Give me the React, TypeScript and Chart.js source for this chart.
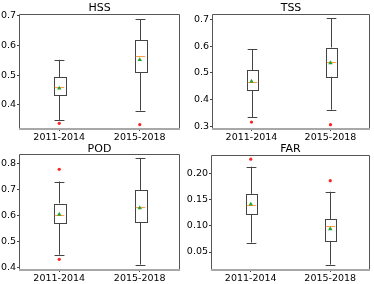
import React, { useEffect, useRef } from 'react';
import { Chart, registerables } from 'chart.js';
Chart.register(...registerables);

const categories = ['2011-2014', '2015-2018'];

const hssLow = [0.349, 0.381];
const hssQ1 = [0.432, 0.508];
const hssMedian = [0.459, 0.566];
const hssQ3 = [0.494, 0.617];
const hssHigh = [0.552, 0.688];
const hssMean = [0.456, 0.552];
const hssOutliers = [[0.338], [0.334]];

const tssLow = [0.334, 0.362];
const tssQ1 = [0.435, 0.486];
const tssMedian = [0.466, 0.539];
const tssQ3 = [0.509, 0.594];
const tssHigh = [0.588, 0.704];
const tssMean = [0.468, 0.537];
const tssOutliers = [[0.316], [0.306]];

const podLow = [0.45, 0.412];
const podQ1 = [0.572, 0.574];
const podMedian = [0.603, 0.632];
const podQ3 = [0.647, 0.698];
const podHigh = [0.732, 0.823];
const podMean = [0.605, 0.63];
const podOutliers = [[0.779, 0.432], []];

const farLow = [0.068, 0.026];
const farQ1 = [0.123, 0.0714];
const farMedian = [0.139, 0.0987];
const farQ3 = [0.1607, 0.113];
const farHigh = [0.2128, 0.165];
const farMean = [0.141, 0.094];
const farOutliers = [[0.227], [0.186]];

const hssTicks = [0.4, 0.5, 0.6, 0.7];
const tssTicks = [0.3, 0.4, 0.5, 0.6, 0.7];
const podTicks = [0.4, 0.5, 0.6, 0.7, 0.8];
const farTicks = [0.05, 0.1, 0.15, 0.2];

const W = 187;
const H = 142;
const FONT = '"DejaVu Sans", sans-serif';

type Panel = {
  title: string;
  low: number[]; q1: number[]; med: number[]; q3: number[]; high: number[]; mean: number[]; outliers: number[][];
  ticks: number[]; decimals: number; yMin: number; yMax: number;
  left: number; top: number; area: { l: number; r: number; t: number; b: number }; titleY: number;
};

const panels: Panel[] = [
  { title: 'HSS', low: hssLow, q1: hssQ1, med: hssMedian, q3: hssQ3, high: hssHigh, mean: hssMean, outliers: hssOutliers,
    ticks: hssTicks, decimals: 1, yMin: 0.319, yMax: 0.706, left: 0, top: 0, area: { l: 19, r: 180, t: 14, b: 129 }, titleY: 11 },
  { title: 'TSS', low: tssLow, q1: tssQ1, med: tssMedian, q3: tssQ3, high: tssHigh, mean: tssMean, outliers: tssOutliers,
    ticks: tssTicks, decimals: 1, yMin: 0.29, yMax: 0.72, left: 187, top: 0, area: { l: 25, r: 184, t: 14, b: 129 }, titleY: 11 },
  { title: 'POD', low: podLow, q1: podQ1, med: podMedian, q3: podQ3, high: podHigh, mean: podMean, outliers: podOutliers,
    ticks: podTicks, decimals: 1, yMin: 0.391, yMax: 0.838, left: 0, top: 142, area: { l: 19, r: 180, t: 12, b: 128 }, titleY: 9.5 },
  { title: 'FAR', low: farLow, q1: farQ1, med: farMedian, q3: farQ3, high: farHigh, mean: farMean, outliers: farOutliers,
    ticks: farTicks, decimals: 2, yMin: 0.0157, yMax: 0.235, left: 187, top: 142, area: { l: 24, r: 184, t: 13, b: 128 }, titleY: 10 },
];

function BoxChart({ p }: { p: Panel }) {
  const ref = useRef<HTMLCanvasElement>(null);
  useEffect(() => {
    const boxPlugin = {
      id: 'boxes',
      beforeDatasetsDraw(chart: any) {
        const ctx = chart.ctx;
        const xs = chart.scales.x;
        const ys = chart.scales.y;
        ctx.save();
        categories.forEach((_, i) => {
          const cx = Math.round(xs.getPixelForValue(i + 1)) + 0.5;
          const half = (xs.getPixelForValue(1.072) - xs.getPixelForValue(1));
          const capHalf = half * 0.85;
          const yLow = ys.getPixelForValue(p.low[i]);
          const yQ1 = ys.getPixelForValue(p.q1[i]);
          const yMed = ys.getPixelForValue(p.med[i]);
          const yQ3 = ys.getPixelForValue(p.q3[i]);
          const yHigh = ys.getPixelForValue(p.high[i]);
          ctx.strokeStyle = '#444444';
          ctx.lineWidth = 1;
          ctx.beginPath();
          ctx.moveTo(cx, yLow); ctx.lineTo(cx, yQ1);
          ctx.moveTo(cx, yQ3); ctx.lineTo(cx, yHigh);
          ctx.moveTo(cx - capHalf, Math.round(yLow) + 0.5); ctx.lineTo(cx + capHalf, Math.round(yLow) + 0.5);
          ctx.moveTo(cx - capHalf, Math.round(yHigh) + 0.5); ctx.lineTo(cx + capHalf, Math.round(yHigh) + 0.5);
          ctx.stroke();
          ctx.fillStyle = '#ffffff';
          ctx.fillRect(cx - half, yQ3, half * 2, yQ1 - yQ3);
          ctx.strokeRect(Math.round(cx - half) + 0.5, Math.round(yQ3) + 0.5, Math.round(half * 2), Math.round(yQ1 - yQ3));
          ctx.strokeStyle = '#ff9f4a';
          ctx.beginPath();
          ctx.moveTo(cx - half + 1, Math.round(yMed) + 0.5);
          ctx.lineTo(cx + half - 1, Math.round(yMed) + 0.5);
          ctx.stroke();
        });
        ctx.restore();
      },
      afterDraw(chart: any) {
        const ctx = chart.ctx;
        const a = chart.chartArea;
        ctx.save();
        ctx.strokeStyle = '#555555';
        ctx.lineWidth = 1;
        ctx.beginPath();
        ctx.moveTo(a.left + 0.5, a.bottom);
        ctx.lineTo(a.left + 0.5, a.top + 0.5);
        ctx.lineTo(a.right - 0.5, a.top + 0.5);
        ctx.lineTo(a.right - 0.5, a.bottom);
        ctx.stroke();
        ctx.strokeStyle = '#a8a8a8';
        ctx.lineWidth = 2;
        ctx.beginPath();
        ctx.moveTo(a.left, a.bottom);
        ctx.lineTo(a.right, a.bottom);
        ctx.stroke();
        ctx.fillStyle = '#000000';
        ctx.font = '11px ' + FONT;
        ctx.textAlign = 'center';
        ctx.textBaseline = 'alphabetic';
        ctx.fillText(p.title, (a.left + a.right) / 2, p.titleY);
        ctx.restore();
      },
    };

    const outlierData: { x: number; y: number }[] = [];
    p.outliers.forEach((arr, i) => arr.forEach((v) => outlierData.push({ x: i + 1, y: v })));

    const chart = new Chart(ref.current as HTMLCanvasElement, {
      type: 'scatter',
      data: {
        datasets: [
          {
            label: 'mean',
            data: p.mean.map((v, i) => ({ x: i + 1, y: v })),
            pointStyle: 'triangle',
            pointRadius: 2.6,
            backgroundColor: '#2ca02c',
            borderColor: '#2ca02c',
            borderWidth: 0,
          },
          {
            label: 'outliers',
            data: outlierData,
            pointStyle: 'circle',
            pointRadius: 1.6,
            backgroundColor: '#ff2020',
            borderColor: '#ff2020',
            borderWidth: 0,
          },
        ],
      },
      options: {
        responsive: false,
        animation: false,
        events: [],
        layout: { padding: { left: 0, top: p.area.t, right: W - p.area.r, bottom: 0 } },
        plugins: { legend: { display: false }, tooltip: { enabled: false }, title: { display: false } },
        scales: {
          x: {
            type: 'linear',
            min: 0.5,
            max: 2.5,
            afterBuildTicks: (s: any) => { s.ticks = [{ value: 1 }, { value: 2 }]; },
            afterFit: (s: any) => { s.height = H - p.area.b; },
            ticks: {
              callback: (v: any) => categories[Math.round(Number(v)) - 1] ?? '',
              font: { family: FONT, size: 9.5 },
              color: '#000000',
              padding: 1,
              maxRotation: 0,
              autoSkip: false,
            },
            grid: { display: true, drawOnChartArea: false, drawTicks: true, tickLength: 2, color: '#444444' },
            border: { display: false },
          },
          y: {
            type: 'linear',
            min: p.yMin,
            max: p.yMax,
            afterBuildTicks: (s: any) => { s.ticks = p.ticks.map((v) => ({ value: v })); },
            afterFit: (s: any) => { s.width = p.area.l; },
            ticks: {
              callback: (v: any) => Number(v).toFixed(p.decimals),
              font: { family: FONT, size: 9.5 },
              color: '#000000',
              padding: 1,
              autoSkip: false,
            },
            grid: { display: true, drawOnChartArea: false, drawTicks: true, tickLength: 2, color: '#444444' },
            border: { display: false },
          },
        },
      },
      plugins: [boxPlugin],
    } as any);
    return () => chart.destroy();
  }, [p]);
  return (
    <canvas
      ref={ref}
      width={W}
      height={H}
      style={{ position: 'absolute', left: p.left, top: p.top, width: W, height: H }}
    />
  );
}

export default function App() {
  return (
    <div style={{ position: 'absolute', left: 0, top: 0, width: 374, height: 284, background: '#ffffff' }}>
      {panels.map((p) => (
        <BoxChart key={p.title} p={p} />
      ))}
    </div>
  );
}
